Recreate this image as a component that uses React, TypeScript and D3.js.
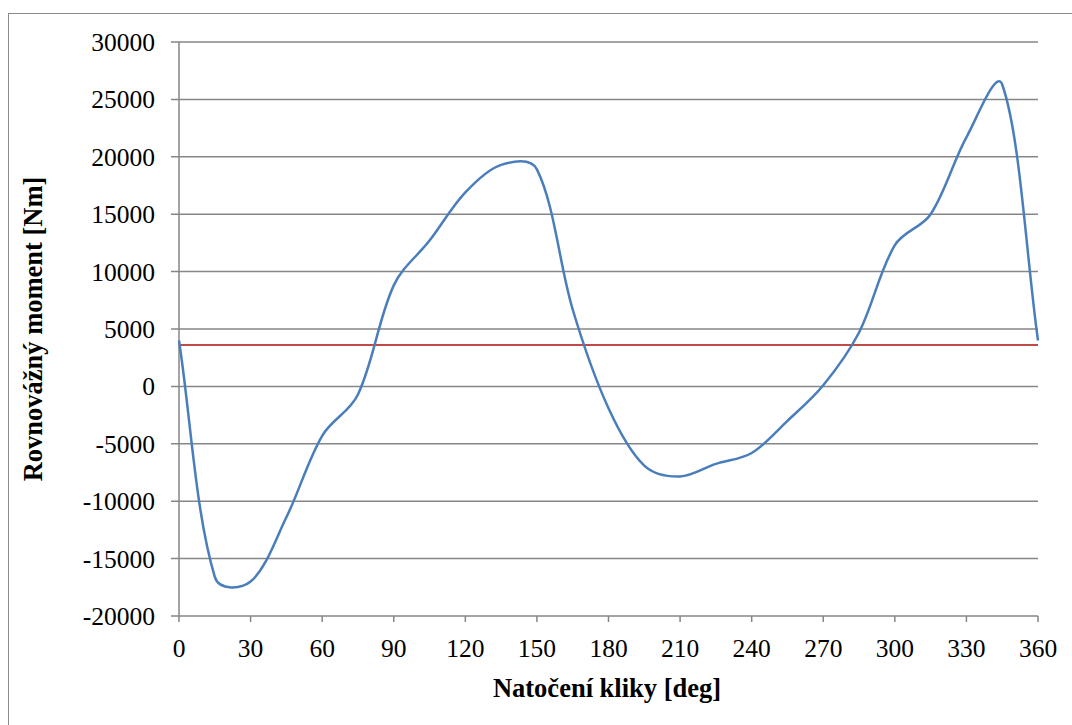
import React from "react";
import * as d3 from "d3";

const angles = [0, 15, 30, 45, 60, 75, 90, 105, 120, 135, 150, 165, 180, 195, 210, 225, 240, 255, 270, 285, 300, 315, 330, 345, 360];
const moment = [4000, -16600, -17000, -11400, -4300, -700, 8800, 12700, 16900, 19300, 18900, 6700, -1900, -6900, -7850, -6750, -5800, -3000, 100, 4700, 12300, 15000, 21700, 26300, 4000];
const meanMoment = 3600;
const xTicks = [0, 30, 60, 90, 120, 150, 180, 210, 240, 270, 300, 330, 360];
const yTicks = [-20000, -15000, -10000, -5000, 0, 5000, 10000, 15000, 20000, 25000, 30000];
const xTitle = "Natočení kliky [deg]";
const yTitle = "Rovnovážný moment [Nm]";

// Excel-like smoothing: Catmull-Rom tangents weighted by neighbouring chord lengths
function smoothPath(p: [number, number][]): string {
  const path = d3.path();
  const n = p.length;
  const dist = (a: [number, number], b: [number, number]) => Math.hypot(b[0] - a[0], b[1] - a[1]);
  const ctrl = (i: number) => {
    const prev = p[Math.max(0, i - 1)];
    const next = p[Math.min(n - 1, i + 1)];
    const tx = next[0] - prev[0], ty = next[1] - prev[1];
    const dIn = i > 0 ? Math.pow(dist(p[i - 1], p[i]), 0.8) : 0;
    const dOut = i < n - 1 ? Math.pow(dist(p[i], p[i + 1]), 0.8) : 0;
    const s = dIn + dOut || 1;
    const end = i === 0 || i === n - 1;
    const fIn = end ? 1 / 3 : dIn / s / 3;
    const fOut = end ? 1 / 3 : dOut / s / 3;
    return {
      before: [p[i][0] - tx * fIn, p[i][1] - ty * fIn] as [number, number],
      after: [p[i][0] + tx * fOut, p[i][1] + ty * fOut] as [number, number],
    };
  };
  path.moveTo(p[0][0], p[0][1]);
  for (let i = 0; i < n - 1; i++) {
    const a = ctrl(i).after;
    const b = ctrl(i + 1).before;
    path.bezierCurveTo(a[0], a[1], b[0], b[1], p[i + 1][0], p[i + 1][1]);
  }
  return path.toString();
}

export default function App() {
  const W = 1072, H = 725;
  const left = 179, right = 1038, top = 42, bottom = 616;
  const x = d3.scaleLinear().domain([0, 360]).range([left, right]);
  const y = d3.scaleLinear().domain([-20000, 30000]).range([bottom, top]);
  const pts: [number, number][] = angles.map((a, i) => [x(a), y(moment[i])]);
  const font = "'Liberation Serif', 'Times New Roman', serif";
  const grid = "#868686";
  return (
    <svg width={W} height={H} style={{ position: "absolute", left: 0, top: 0, background: "#fff" }} fontFamily={font}>
      <rect x={8.5} y={13.5} width={1080} height={800} fill="none" stroke="#8c8c8c" strokeWidth={1} />
      {yTicks.map(t => (
        <g key={t}>
          <line x1={left - 8} x2={right} y1={y(t)} y2={y(t)} stroke={grid} strokeWidth={1.5} />
          <text x={left - 24} y={y(t)} dy="0.35em" textAnchor="end" fontSize={25.5} fill="#000">{t}</text>
        </g>
      ))}
      <line x1={left} x2={left} y1={top} y2={bottom} stroke={grid} strokeWidth={1.5} />
      {xTicks.map(t => (
        <g key={t}>
          <line x1={x(t)} x2={x(t)} y1={bottom} y2={bottom + 6} stroke={grid} strokeWidth={1.5} />
          <text x={x(t)} y={657} textAnchor="middle" fontSize={25.5} fill="#000">{t}</text>
        </g>
      ))}
      <line x1={x(0)} x2={x(360)} y1={y(meanMoment)} y2={y(meanMoment)} stroke="#BE4B48" strokeWidth={2} />
      <path d={smoothPath(pts)} fill="none" stroke="#4A7EBB" strokeWidth={2.5} />
      <text x={607} y={697} textAnchor="middle" fontSize={26.5} fontWeight="bold" fill="#000">{xTitle}</text>
      <text transform={`translate(42, 329) rotate(-90)`} textAnchor="middle" fontSize={26.5} fontWeight="bold" fill="#000">{yTitle}</text>
    </svg>
  );
}
